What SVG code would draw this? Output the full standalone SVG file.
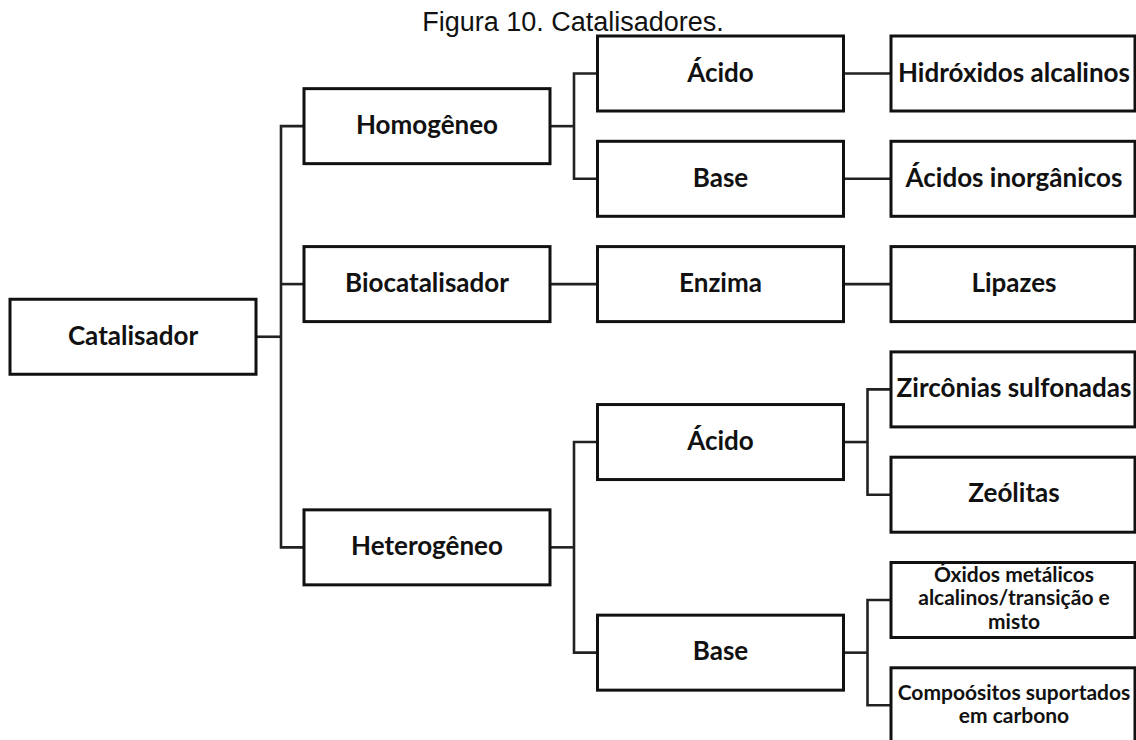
<svg xmlns="http://www.w3.org/2000/svg" width="1136" height="740" viewBox="0 0 1136 740">
<style>
.box{fill:#fff;stroke:#111;stroke-width:3}
.con{fill:none;stroke:#222;stroke-width:2.6}
.lbl{font-family:Lato,"Open Sans","Liberation Sans",sans-serif;font-weight:700;font-size:26px;fill:#111;text-anchor:middle}
.sm{font-size:21px}
.title{font-family:"Liberation Sans",Arial,sans-serif;font-size:27px;fill:#111;text-anchor:middle}
</style>
<rect width="1136" height="740" fill="#fff"/>
<text class="title" x="573" y="31">Figura 10. Catalisadores.</text>
<g id="connectors">
<path class="con" d="M256,336.75 H281"/>
<path class="con" d="M304,126.15 H281 V547.35 H304"/>
<path class="con" d="M281,284.1 H304"/>
<path class="con" d="M550,126.15 H574"/>
<path class="con" d="M597.5,73.5 H574 V178.8 H597.5"/>
<path class="con" d="M550,284.1 H597.5"/>
<path class="con" d="M843.5,73.5 H891"/>
<path class="con" d="M843.5,178.8 H891"/>
<path class="con" d="M843.5,284.1 H891"/>
<path class="con" d="M550,547.35 H574"/>
<path class="con" d="M597.5,442.05 H574 V652.65 H597.5"/>
<path class="con" d="M843.5,442.05 H867.5"/>
<path class="con" d="M891,389.4 H867.5 V494.7 H891"/>
<path class="con" d="M843.5,652.65 H867.5"/>
<path class="con" d="M891,600 H867.5 V705.3 H891"/>
</g>
<g id="catalisador"><rect class="box" x="10" y="299.25" width="246" height="75"/><text class="lbl" x="133" y="344.5">Catalisador</text></g>
<g id="homogeneo"><rect class="box" x="304" y="88.65" width="246" height="75"/><text class="lbl" x="427" y="134">Homogêneo</text></g>
<g id="biocatalisador"><rect class="box" x="304" y="246.6" width="246" height="75"/><text class="lbl" x="427" y="292">Biocatalisador</text></g>
<g id="heterogeneo"><rect class="box" x="304" y="509.85" width="246" height="75"/><text class="lbl" x="427" y="555">Heterogêneo</text></g>
<g id="acido-homo"><rect class="box" x="597.5" y="36" width="246" height="75"/><text class="lbl" x="720.5" y="81.5">Ácido</text></g>
<g id="base-homo"><rect class="box" x="597.5" y="141.3" width="246" height="75"/><text class="lbl" x="720.5" y="186.5">Base</text></g>
<g id="enzima"><rect class="box" x="597.5" y="246.6" width="246" height="75"/><text class="lbl" x="720.5" y="292">Enzima</text></g>
<g id="acido-hetero"><rect class="box" x="597.5" y="404.55" width="246" height="75"/><text class="lbl" x="720.5" y="449.5">Ácido</text></g>
<g id="base-hetero"><rect class="box" x="597.5" y="615.15" width="246" height="75"/><text class="lbl" x="720.5" y="660">Base</text></g>
<g id="hidroxidos"><rect class="box" x="891" y="36" width="244" height="75"/><text class="lbl" x="1014" y="81.5">Hidróxidos alcalinos</text></g>
<g id="acidos-inorganicos"><rect class="box" x="891" y="141.3" width="244" height="75"/><text class="lbl" x="1014" y="186.5">Ácidos inorgânicos</text></g>
<g id="lipazes"><rect class="box" x="891" y="246.6" width="244" height="75"/><text class="lbl" x="1014" y="292">Lipazes</text></g>
<g id="zirconias"><rect class="box" x="891" y="351.9" width="244" height="75"/><text class="lbl" x="1014" y="397">Zircônias sulfonadas</text></g>
<g id="zeolitas"><rect class="box" x="891" y="457.2" width="244" height="75"/><text class="lbl" x="1014" y="502">Zeólitas</text></g>
<g id="oxidos"><rect class="box" x="891" y="562.5" width="244" height="75"/><text class="lbl sm" x="1014" y="581.7">Óxidos metálicos</text><text class="lbl sm" x="1014" y="605">alcalinos/transição e</text><text class="lbl sm" x="1014" y="629.3">misto</text></g>
<g id="compositos"><rect class="box" x="891" y="667.8" width="244" height="75"/><text class="lbl sm" x="1014" y="700">Compoósitos suportados</text><text class="lbl sm" x="1014" y="723.3">em carbono</text></g>
</svg>
